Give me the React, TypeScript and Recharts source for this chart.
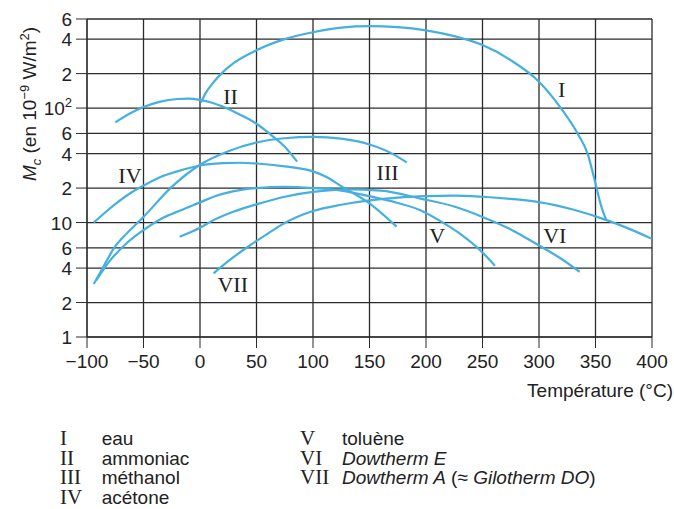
import React from 'react'
import { LineChart, Line, XAxis, YAxis, CartesianGrid, ReferenceDot } from 'recharts'

const C = { blue: '#45b0e0', grid: '#2b2b2b', ink: '#222' }
const SANS = '"Liberation Sans", Arial, Helvetica, sans-serif'
const SERIF = '"Liberation Serif", "Times New Roman", serif'

const xTicks = [-100, -50, 0, 50, 100, 150, 200, 250, 300, 350, 400]
const yTicks = [1, 2, 4, 6, 10, 20, 40, 60, 100, 200, 400, 600]

// I eau
const eauT = [1, 5, 12, 20, 30, 50, 75, 100, 125, 150, 175, 200, 225, 250, 275, 300, 320, 335, 343, 349, 355, 359.5]
const eauM = [112, 135, 168, 205, 248, 320, 400, 460, 505, 520, 510, 478, 425, 355, 262, 170, 98, 58, 40, 24, 14, 10.5]
// II ammoniac
const nh3T = [-75, -60, -50, -35, -20, -10, 0, 10, 20, 35, 50, 65, 75, 86]
const nh3M = [75, 92, 102, 114, 120, 121, 118, 112, 103, 88, 73, 56, 46, 34]
// III méthanol
const methT = [-94, -85, -76, -65, -50, -25, 0, 25, 50, 75, 100, 125, 150, 170, 183]
const methM = [2.9, 4.2, 6, 8, 11.2, 20.5, 32, 42, 50, 54.5, 56, 54, 48, 40, 33.5]
// IV acétone
const acetT = [-94, -85, -75, -60, -50, -35, -20, 0, 20, 35, 50, 75, 100, 112, 125, 150, 174]
const acetM = [10, 12, 14.5, 18.5, 21, 25, 28, 31.5, 33, 33.3, 32.8, 31, 28, 25, 20.8, 14.7, 9.2]
// V toluène
const tolT = [-92, -80, -65, -50, -35, -17, 0, 12, 30, 50, 75, 100, 125, 150, 175, 195, 212, 230, 249, 261]
const tolM = [3.1, 4.6, 6.6, 8.6, 10.7, 12.8, 15, 16.8, 18.8, 20, 20.5, 20, 19, 17, 14.8, 12.8, 10.4, 8, 5.6, 4.2]
// VI Dowtherm E
const dowET = [-18, 0, 12, 30, 53, 75, 100, 130, 160, 195, 225, 250, 275, 300, 320, 336]
const dowEM = [7.5, 9, 10.5, 12.5, 14.7, 16.8, 18.5, 19.5, 19, 16.2, 13.8, 11.2, 8.7, 6.3, 4.8, 3.7]
// VII Dowtherm A
const dowAT = [12, 25, 44, 60, 75, 100, 125, 150, 175, 200, 225, 250, 275, 300, 330, 360, 380, 400]
const dowAM = [3.6, 4.6, 6.3, 8, 9.9, 12.6, 14.3, 15.6, 16.5, 17, 17.2, 16.8, 16.1, 15.1, 13, 10.5, 8.8, 7.2]

const curveNames = ['I', 'II', 'III', 'IV', 'V', 'VI', 'VII']
const labelT = [320, 27, 166, -62, 210, 314, 29]
const labelM = [145, 127, 27.5, 25.7, 7.7, 7.7, 2.85]

const pts = (t: number[], m: number[]) => t.map((v, i) => ({ t: v, m: m[i] }))
const series = [
  pts(eauT, eauM), pts(nh3T, nh3M), pts(methT, methM), pts(acetT, acetM),
  pts(tolT, tolM), pts(dowET, dowEM), pts(dowAT, dowAM),
]

const fmtX = (v: number) => (v < 0 ? '\u2212' + Math.abs(v) : String(v))

const YTick = (p: any) => {
  const v = p.payload.value
  const base = { x: p.x, y: p.y, textAnchor: 'end' as const, fill: C.ink, fontSize: 19, fontFamily: SANS }
  if (v === 100) {
    return (
      <text {...base} dy={7}>
        10<tspan dy={-8} fontSize={13}>2</tspan>
      </text>
    )
  }
  const s = v === 10 || v === 1 ? String(v) : String(v).charAt(0)
  return <text {...base} dy={7}>{s}</text>
}

const RomanMark = (p: any) => (
  <text x={p.cx} y={p.cy} textAnchor="middle" dominantBaseline="central"
    fontFamily={SERIF} fontSize={22} fill={C.ink}>{p.name}</text>
)

const legendLeft = [['I', 'eau'], ['II', 'ammoniac'], ['III', 'méthanol'], ['IV', 'acétone']]

export default function App() {
  const row = { height: 19.6, lineHeight: '19.6px', whiteSpace: 'nowrap' as const }
  const num = { fontFamily: SERIF, fontSize: 21, lineHeight: '19px', color: C.ink }
  const txt = { fontFamily: SANS, fontSize: 19, lineHeight: '19px', color: C.ink }
  return (
    <div style={{ position: 'absolute', left: 0, top: 0, width: 674, height: 509, background: '#fff', overflow: 'hidden' }}>
      <LineChart width={674} height={400} margin={{ top: 19, right: 22, left: 0, bottom: 23 }}>
        <CartesianGrid stroke={C.grid} strokeWidth={1.3} horizontalValues={yTicks} verticalValues={xTicks} />
        <XAxis type="number" dataKey="t" domain={[-100, 400]} ticks={xTicks} allowDataOverflow interval={0}
          height={40} tickSize={11} tickMargin={7} tickFormatter={fmtX}
          stroke={C.grid} tick={{ fill: C.ink, fontSize: 19, fontFamily: SANS }} />
        <YAxis type="number" scale="log" domain={[1, 600]} ticks={yTicks} allowDataOverflow interval={0}
          width={87} tickSize={11} tickMargin={4} stroke={C.grid} tick={<YTick />} />
        {series.map((d, i) => (
          <Line key={curveNames[i]} data={d} dataKey="m" type="monotone" stroke={C.blue}
            strokeWidth={2.2} dot={false} activeDot={false} isAnimationActive={false} />
        ))}
        {curveNames.map((n, i) => (
          <ReferenceDot key={'l' + n} x={labelT[i]} y={labelM[i]} r={0}
            shape={(p: any) => <RomanMark {...p} name={n} />} />
        ))}
      </LineChart>

      <div style={{ position: 'absolute', left: 31, top: 104, transform: 'translate(-50%,-50%) rotate(-90deg)',
        whiteSpace: 'nowrap', fontFamily: SANS, fontSize: 19, color: C.ink, lineHeight: '22px' }}>
        <i>M</i><sub style={{ fontSize: 13 }}><i>c</i></sub> (en 10<sup style={{ fontSize: 13 }}>−9</sup> W/m<sup style={{ fontSize: 13 }}>2</sup>)
      </div>

      <div style={{ position: 'absolute', right: 1, top: 381, fontFamily: SANS, fontSize: 19, lineHeight: '19px', color: C.ink }}>
        Température (°C)
      </div>

      <div style={{ position: 'absolute', left: 60, top: 429 }}>
        {legendLeft.map(([n, s]) => (
          <div key={n} style={row}>
            <span style={{ ...num, display: 'inline-block', width: 41.7 }}>{n}</span>
            <span style={txt}>{s}</span>
          </div>
        ))}
      </div>

      <div style={{ position: 'absolute', left: 300, top: 429 }}>
        <div style={row}>
          <span style={{ ...num, display: 'inline-block', width: 42 }}>V</span>
          <span style={txt}>toluène</span>
        </div>
        <div style={row}>
          <span style={{ ...num, display: 'inline-block', width: 42 }}>VI</span>
          <span style={{ ...txt, fontStyle: 'italic' }}>Dowtherm E</span>
        </div>
        <div style={row}>
          <span style={{ ...num, display: 'inline-block', width: 42 }}>VII</span>
          <span style={txt}><i>Dowtherm A</i> (≈ <i>Gilotherm DO</i>)</span>
        </div>
      </div>
    </div>
  )
}
